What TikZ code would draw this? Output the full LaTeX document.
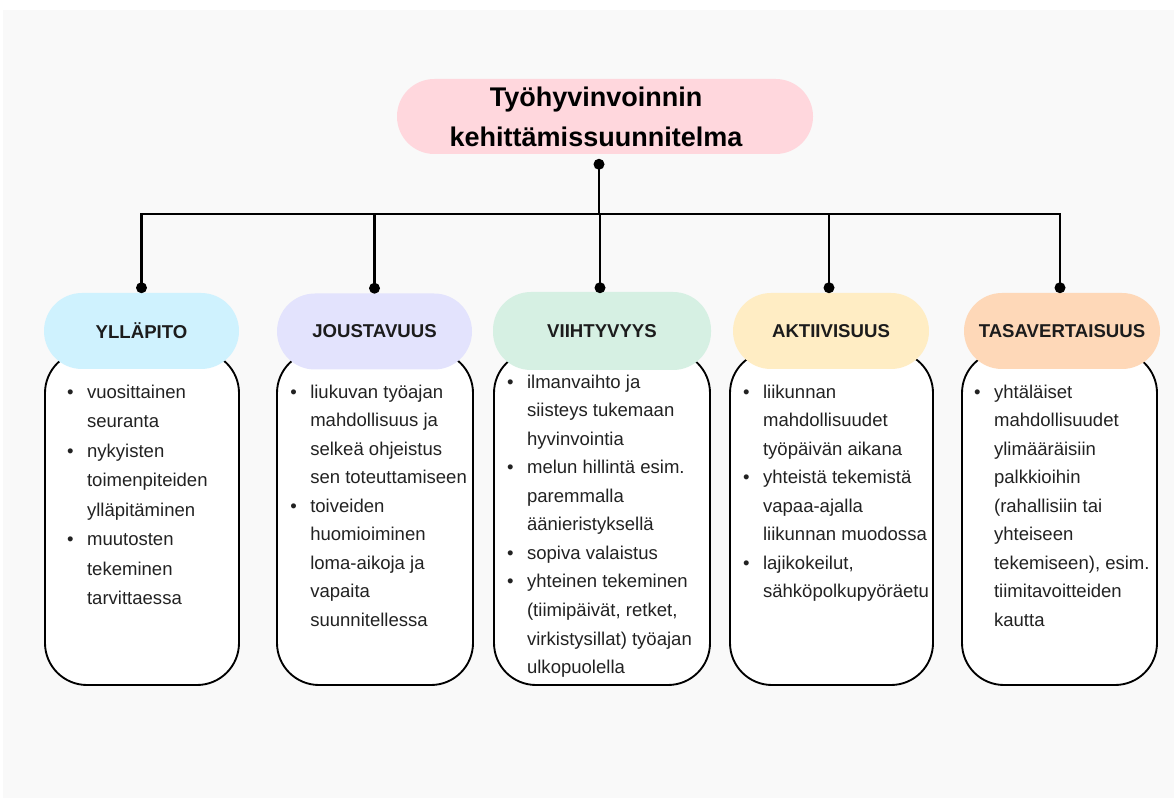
\documentclass[tikz,border=0pt]{standalone}
\usepackage{fontspec}
\setmainfont{Liberation Sans}
\usetikzlibrary{calc}
\definecolor{bgc}{RGB}{249,249,249}
\definecolor{titlec}{RGB}{255,215,221}
\definecolor{c1}{RGB}{207,242,254}
\definecolor{c2}{RGB}{227,227,253}
\definecolor{c3}{RGB}{214,240,227}
\definecolor{c4}{RGB}{255,237,196}
\definecolor{c5}{RGB}{254,216,184}
\definecolor{hdtext}{RGB}{28,28,28}
\definecolor{bodytxt}{RGB}{34,34,34}
\newcommand{\bl}{\strut\makebox[15pt][l]{•}}
\newcommand{\cn}{\strut\hspace*{15pt}}
\tikzset{
  conn/.style={line width=1.7pt, draw=black},
  dotc/.style={fill=black},
  pill/.style={rectangle, rounded corners=28.5pt, inner sep=0pt,
    font=\fontsize{13.95pt}{16pt}\selectfont\bfseries, text=hdtext,
    minimum height=76*0.75pt},
  bodybox/.style={rectangle, draw=black, line width=1.4pt, fill=white,
    rounded corners=31.5pt, minimum height=334*0.75pt, inner sep=0pt},
  bodytext/.style={anchor=north west, inner sep=0pt, align=left, text=bodytxt},
}
\begin{document}
\begin{tikzpicture}[x=0.75pt,y=-0.75pt]
\useasboundingbox (0,0) rectangle (1174,798);
\fill[white] (0,0) rectangle (1174,798);
\fill[bgc] (3,10) rectangle (1174,798);

% title
\node[rectangle, rounded corners=28pt, fill=titlec, minimum width=416*0.75pt,
  minimum height=75*0.75pt, inner sep=0pt, align=center,
  font=\fontsize{20.25pt}{30pt}\selectfont\bfseries] (title) at (605,116.5)
  {Työhyvinvoinnin\hspace*{13.5pt}\\kehittämissuunnitelma\hspace*{13.5pt}};

% body boxes
\node[bodybox, minimum width=194*0.75pt] (b1) at (142,518) {};
\node[bodybox, minimum width=196*0.75pt] (b2) at (375,518) {};
\node[bodybox, minimum width=216*0.75pt] (b3) at (602,518) {};
\node[bodybox, minimum width=203*0.75pt] (b4) at (831.5,518) {};
\node[bodybox, minimum width=195*0.75pt] (b5) at (1059.5,518) {};

% header pills
\node[pill, fill=c1, minimum width=195*0.75pt] (p1) at (141.5,331) {YLLÄPITO};
\node[pill, fill=c2, minimum width=195*0.75pt] (p2) at (374.5,331.5) {JOUSTAVUUS};
\node[pill, fill=c3, minimum width=218*0.75pt, minimum height=78*0.75pt] (p3) at (602,331) {VIIHTYVYYS};
\node[pill, fill=c4, minimum width=196*0.75pt] (p4) at (831,331) {AKTIIVISUUS};
\node[pill, fill=c5, minimum width=196*0.75pt] (p5) at (1062,331) {TASAVERTAISUUS};

% connector points
\coordinate (tdot) at ($(title.south)+(-6,10)$);
\coordinate (bus) at (0,214);
\coordinate (d1) at ($(p1.north)+(0,-5)$);
\coordinate (d2) at ($(p2.north)+(0,-5)$);
\coordinate (d3) at ($(p3.north)+(-2,-4)$);
\coordinate (d4) at ($(p4.north)+(-2,-5)$);
\coordinate (d5) at ($(p5.north)+(-2,-5)$);

\foreach \d in {d1,d2,d3,d4,d5}{
  \draw[conn] (tdot) -- (tdot |- bus) -| (\d);
}
\foreach \d in {tdot,d1,d2,d3,d4,d5}{
  \fill[dotc] (\d) circle[radius=5.5];
}

% body texts
\node[bodytext, font=\fontsize{13.9pt}{22.1pt}\selectfont] (t1) at (66.8,377.4) {%
\bl vuosittainen\\
\cn seuranta\\
\bl nykyisten\\
\cn toimenpiteiden\\
\cn ylläpitäminen\\
\bl muutosten\\
\cn tekeminen\\
\cn tarvittaessa};

\node[bodytext, font=\fontsize{13.9pt}{21.4pt}\selectfont] (t2) at (290,378) {%
\bl liukuvan työajan\\
\cn mahdollisuus ja\\
\cn selkeä ohjeistus\\
\cn sen toteuttamiseen\\
\bl toiveiden\\
\cn huomioiminen\\
\cn loma-aikoja ja\\
\cn vapaita\\
\cn suunnitellessa};

\node[bodytext, font=\fontsize{13.9pt}{21.4pt}\selectfont] (t3) at (506.8,368) {%
\bl ilmanvaihto ja\\
\cn siisteys tukemaan\\
\cn hyvinvointia\\
\bl melun hillintä esim.\\
\cn paremmalla\\
\cn äänieristyksellä\\
\bl sopiva valaistus\\
\bl yhteinen tekeminen\\
\cn (tiimipäivät, retket,\\
\cn virkistysillat) työajan\\
\cn ulkopuolella};

\node[bodytext, font=\fontsize{13.9pt}{21.4pt}\selectfont] (t4) at (742.8,378) {%
\bl liikunnan\\
\cn mahdollisuudet\\
\cn työpäivän aikana\\
\bl yhteistä tekemistä\\
\cn vapaa-ajalla\\
\cn liikunnan muodossa\\
\bl lajikokeilut,\\
\cn sähköpolkupyöräetu};

\node[bodytext, font=\fontsize{13.9pt}{21.4pt}\selectfont] (t5) at (973.8,378) {%
\bl yhtäläiset\\
\cn mahdollisuudet\\
\cn ylimääräisiin\\
\cn palkkioihin\\
\cn (rahallisiin tai\\
\cn yhteiseen\\
\cn tekemiseen), esim.\\
\cn tiimitavoitteiden\\
\cn kautta};
\end{tikzpicture}
\end{document}
